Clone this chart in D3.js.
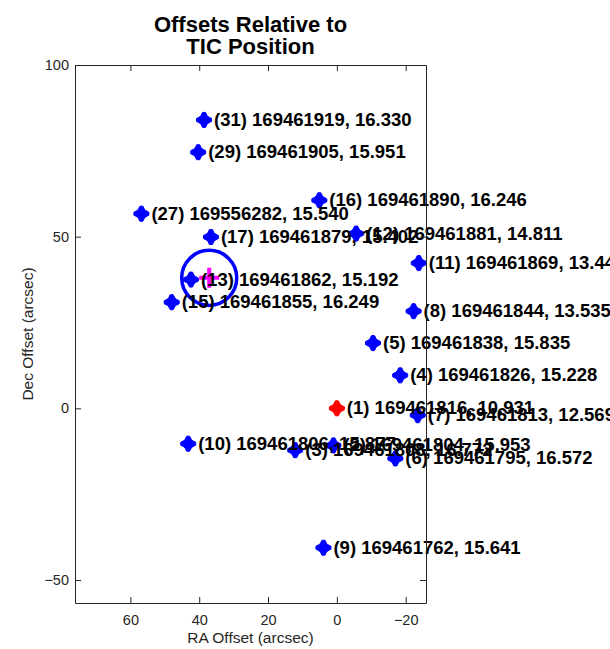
<!DOCTYPE html>
<meta charset="utf-8">
<style>
    body{
        margin: 0;
        background: #fff;
        font-family: "Liberation Sans", Arial, sans-serif;
    }
</style>
<!-- Load d3.js -->
<script src="https://d3js.org/d3.v7.min.js"></script>

<div id="offsets_viz"></div>

<script>

    // star list: index, TIC id, Tmag and offsets from the target (arcsec)
    const starIdx = [31, 29, 16, 27, 17, 12, 11, 13, 15, 8, 5, 4, 1, 7, 10, 3, 2, 6, 9];
    const ticIds = ["169461919", "169461905", "169461890", "169556282", "169461879", "169461881",
                    "169461869", "169461862", "169461855", "169461844", "169461838", "169461826",
                    "169461816", "169461813", "169461806", "169461808", "169461804", "169461795", "169461762"];
    const tmags = ["16.330", "15.951", "16.246", "15.540", "15.402", "14.811", "13.447", "15.192", "16.249",
                   "13.535", "15.835", "15.228", "10.931", "12.569", "15.877", "16.772", "15.953", "16.572", "15.641"];
    const raOffset = [38.6, 40.3, 5.1, 56.8, 36.6, -5.6, -23.8, 42.4, 48.0,
                      -22.3, -10.5, -18.4, 0.0, -23.5, 43.2, 12.1, 1.0, -17.0, 3.9];
    const decOffset = [84.0, 74.6, 60.6, 56.7, 49.9, 50.9, 42.3, 37.5, 30.9,
                       28.3, 19.0, 9.6, 0.0, -2.0, -10.3, -12.2, -10.8, -14.6, -40.6];

    // fitted source position and its uncertainty circle
    const centroidRA = 37.1, centroidDec = 38.0, centroidRadius = 8.0;

    const xTicks = [60, 40, 20, 0, -20];
    const yTicks = [-50, 0, 50, 100];

    const stars = starIdx.map((d, i) => ({
        idx: d, tic: ticIds[i], mag: tmags[i], ra: raOffset[i], dec: decOffset[i]
    }));

    // set the dimensions and margins of the graph
    const margin = {top: 65, right: 184, bottom: 46, left: 75},
        width = 610 - margin.left - margin.right,
        height = 649 - margin.top - margin.bottom;

    const svgRoot = d3.select("#offsets_viz")
      .append("svg")
        .attr("width", 610)
        .attr("height", 649);
    const svg = svgRoot.append("g")
        .attr("transform", `translate(${margin.left},${margin.top})`);

    // RA increases to the left
    const x = d3.scaleLinear().domain([76.1, -25.9]).range([0, width]);
    const y = d3.scaleLinear().domain([-56.7, 100]).range([height, 0]);

    const axisColor = "#262626";

    // title
    svgRoot.append("text")
        .attr("x", margin.left + width / 2).attr("y", 31.5)
        .attr("text-anchor", "middle")
        .style("font-size", "22px").style("font-weight", "bold")
        .text("Offsets Relative to");
    svgRoot.append("text")
        .attr("x", margin.left + width / 2).attr("y", 53.5)
        .attr("text-anchor", "middle")
        .style("font-size", "22px").style("font-weight", "bold")
        .text("TIC Position");

    // centroid circle and cross
    svg.append("circle")
        .attr("cx", x(centroidRA)).attr("cy", y(centroidDec))
        .attr("r", x(0) - x(centroidRadius))
        .attr("fill", "none").attr("stroke", "#0000ff").attr("stroke-width", 3.5);
    svg.append("path")
        .attr("transform", `translate(${x(centroidRA)},${y(centroidDec)})`)
        .attr("d", "M-10,0H10M0,-10V10")
        .attr("stroke", "#ff00ff").attr("stroke-width", 4);

    // markers (blocky diamond)
    const marker = "M-1.5,-7.5H1.5L3,-4.5L4.5,-3L7.5,-1.5V1.5L4.5,3L3,4.5L1.5,7.5H-1.5L-3,4.5L-4.5,3L-7.5,1.5V-1.5L-4.5,-3L-3,-4.5Z";
    svg.append("g")
      .selectAll("path")
      .data(stars)
      .join("path")
        .attr("transform", d => `translate(${x(d.ra)},${y(d.dec)})`)
        .attr("d", marker)
        .attr("fill", d => d.idx === 1 ? "#ff0000" : "#0000ff")
        .attr("stroke", d => d.idx === 1 ? "#ff0000" : "#0000ff")
        .attr("stroke-width", 1)
        .attr("stroke-linejoin", "round");

    // labels
    svg.append("g")
      .selectAll("text")
      .data(stars)
      .join("text")
        .attr("x", d => x(d.ra) + 10)
        .attr("y", d => y(d.dec) + 6)
        .style("font-size", "18.5px").style("font-weight", "bold")
        .text(d => `(${d.idx}) ${d.tic}, ${d.mag}`);

    // axes, ticks pointing inside the box
    const gx = svg.append("g")
        .attr("transform", `translate(0, ${height})`)
        .call(d3.axisBottom(x).tickValues(xTicks).tickSize(-6).tickSizeOuter(0).tickPadding(12));
    const gy = svg.append("g")
        .call(d3.axisLeft(y).tickValues(yTicks).tickSize(-6).tickSizeOuter(0).tickPadding(6));
    const gt = svg.append("g")
        .call(d3.axisTop(x).tickValues(xTicks).tickSize(-6).tickSizeOuter(0).tickFormat(""));
    const gr = svg.append("g")
        .attr("transform", `translate(${width}, 0)`)
        .call(d3.axisRight(y).tickValues(yTicks).tickSize(-6).tickSizeOuter(0).tickFormat(""));

    [gx, gy, gt, gr].forEach(g => {
        g.selectAll("path, line").attr("stroke", axisColor);
        g.selectAll("text")
          .attr("fill", axisColor)
          .style("font-size", "14.5px")
          .style("font-family", "'Liberation Sans', Arial, sans-serif");
    });

    // axis titles
    svg.append("text")
        .attr("x", width / 2).attr("y", height + 40)
        .attr("text-anchor", "middle")
        .attr("fill", axisColor)
        .style("font-size", "15.5px")
        .text("RA Offset (arcsec)");
    svg.append("text")
        .attr("transform", `translate(${-42}, ${height / 2}) rotate(-90)`)
        .attr("text-anchor", "middle")
        .attr("fill", axisColor)
        .style("font-size", "15.5px")
        .text("Dec Offset (arcsec)");

</script>
